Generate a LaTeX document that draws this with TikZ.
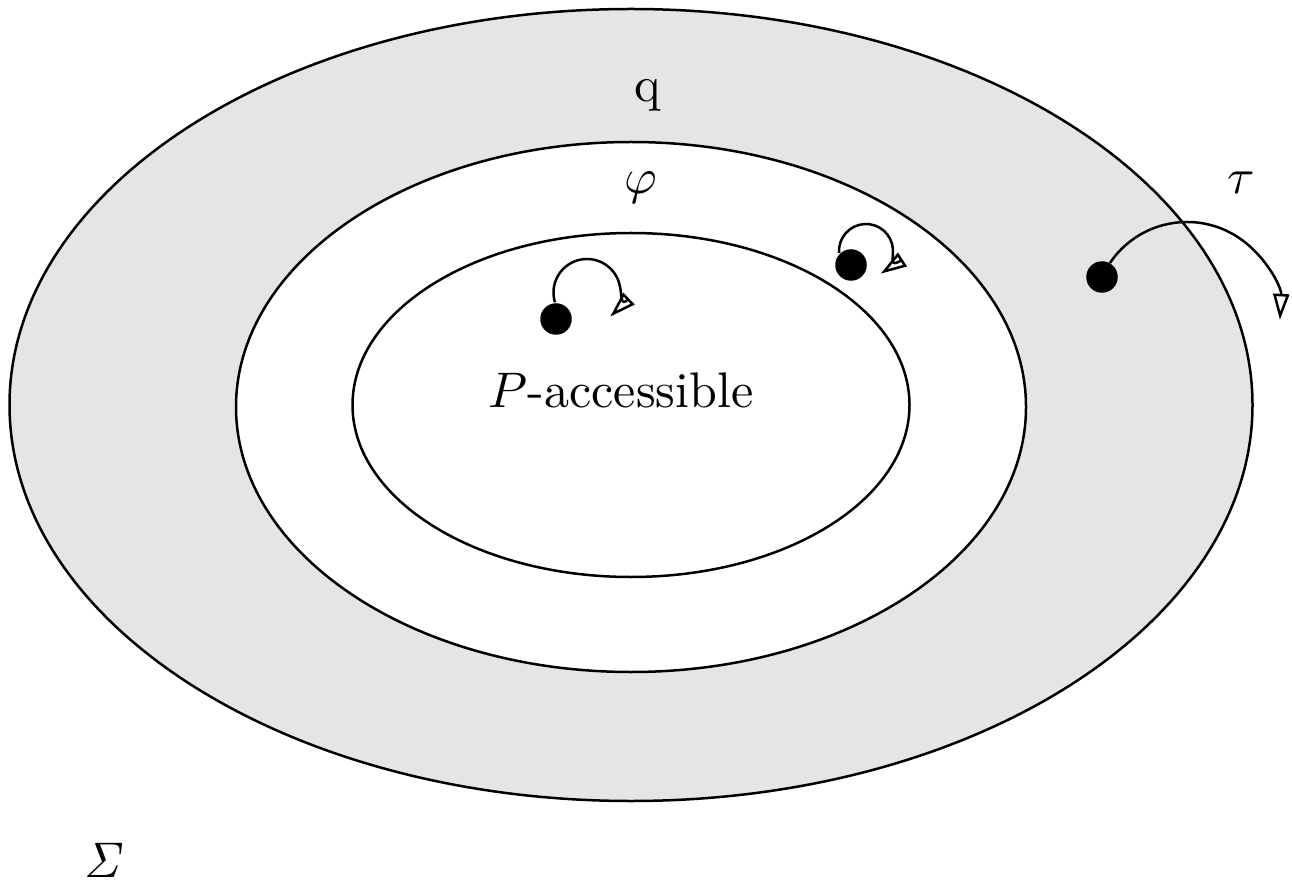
\documentclass[tikz,border=0pt]{standalone}
\usetikzlibrary{arrows.meta}
\begin{document}
\begin{tikzpicture}[x=0.2pt,y=0.2pt,
  dot/.style={circle,fill=black,inner sep=0pt,minimum size=6.3pt},
  loopy/.style={-{Triangle[open,length=5.2pt,width=3.2pt]},line width=0.5pt},
  region/.style={line width=0.5pt},
  lbl/.style={inner sep=0pt}]
\useasboundingbox (0,0) rectangle (1292,881);
% regions
\draw[region,fill=black!10] (631,476) ellipse[x radius=621.5,y radius=396];
\draw[region,fill=white] (631,474) ellipse[x radius=395,y radius=265];
\draw[region] (631,476) ellipse[x radius=278.5,y radius=172];
% labels
\node[lbl] (q) at (648,786) {q};
\node[lbl] (phi) at (641,693) {$\varphi$};
\node[lbl] (tau) at (1241,698) {$\tau$};
\node[lbl] (sig) at (104,21) {$\mathit{\Sigma}$};
\node[lbl] (pacc) at (621,491) {$P$-accessible};
% dots
\node[dot] (d1) at (556,562) {};
\node[dot] (d2) at (851,616) {};
\node[dot] (d3) at (1102,604) {};
% loop centres
\coordinate (c1) at (587,588.5);
\coordinate (c2) at (866,630);
\coordinate (c3) at (1187,566);
\draw[loopy] ([shift={(197:33.5)}]c1) arc[start angle=197,end angle=-46,radius=33.5];
\draw[loopy] ([shift={(184:27)}]c2) arc[start angle=184,end angle=-57,radius=27];
\draw[loopy] ([shift={(146:93)}]c3) arc[start angle=146,end angle=-3,radius=93];
\end{tikzpicture}
\end{document}
